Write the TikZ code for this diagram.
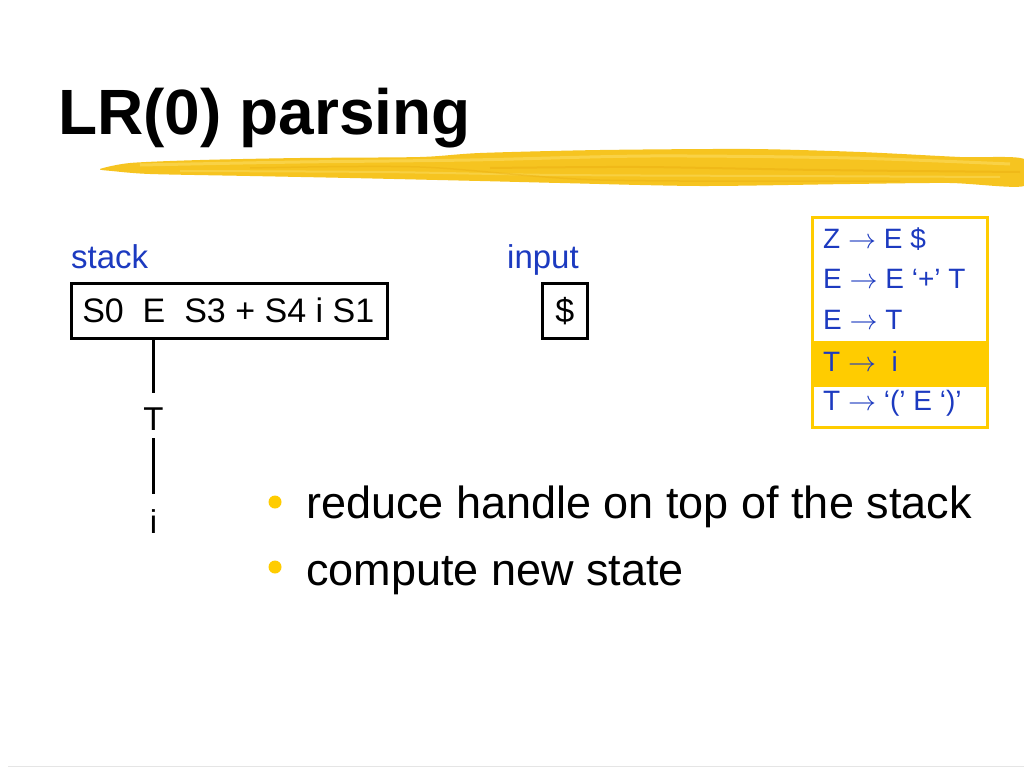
\RequirePackage{fix-cm}
\documentclass[tikz,border=0pt]{standalone}
\usepackage{fontspec}
\setmainfont{Liberation Sans}
\definecolor{slideblue}{RGB}{28,58,192}
\definecolor{gold}{RGB}{255,204,0}
\definecolor{brushA}{RGB}{246,196,32}
\definecolor{brushB}{RGB}{250,214,80}
\definecolor{brushC}{RGB}{236,178,20}
\begin{document}
\begin{tikzpicture}[x=1pt,y=-1pt,
  lbl/.style={inner sep=0pt, text=slideblue, font=\fontsize{33}{38}\selectfont},
  boxnode/.style={draw=black, line width=2.5pt, inner sep=0pt, font=\fontsize{34}{40}\selectfont},
  treetext/.style={inner sep=0pt, font=\fontsize{33}{38}\selectfont},
  treeline/.style={line width=2.5pt},
  gtext/.style={inner sep=0pt, text=slideblue, font=\fontsize{28}{32}\selectfont},
  btext/.style={inner sep=0pt, font=\fontsize{45}{52}\selectfont},
  bulletdot/.style={circle, fill=gold, inner sep=0pt, minimum size=13pt}
]
\newcommand{\ra}{\ensuremath{\rightarrow}}
\useasboundingbox (0,0) rectangle (1024,768);
\fill[white] (0,0) rectangle (1024,768);

% brush stroke under the title
\fill[brushA] plot[smooth cycle, tension=0.45] coordinates {
  (100,169) (130,163) (200,160) (300,158) (420,157) (480,153) (600,150) (750,149)
  (860,152) (960,157) (1024,159) (1024,186) (950,183) (850,184) (700,186)
  (560,183) (480,181) (350,178) (250,176) (150,174) (112,171)};
\draw[brushB, line width=3pt, opacity=0.8] plot[smooth] coordinates {(140,165) (300,162) (470,160) (650,156) (850,158) (1010,164)};
\draw[brushB, line width=2pt, opacity=0.7] plot[smooth] coordinates {(180,171) (380,172) (560,175) (780,176) (1000,177)};
\draw[brushC, line width=2pt, opacity=0.6] plot[smooth] coordinates {(490,168) (640,167) (820,170) (1020,172)};
\draw[brushC, line width=1.5pt, opacity=0.5] plot[smooth] coordinates {(250,168) (420,167) (600,180) (900,181)};

% title
\node[anchor=base west, inner sep=0pt, font=\bfseries\fontsize{64}{72}\selectfont] (title) at (58,134) {LR(0) parsing};

% labels
\node[lbl, anchor=base west] (stacklbl) at (71,268) {stack};
\node[lbl, anchor=base west] (inputlbl) at (507,268) {input};

% stack and input boxes
\node[boxnode, anchor=north west, minimum width=316pt, minimum height=55pt,
      inner xsep=11pt] (stack) at (70,282) {\makebox[294pt][l]{S0\ \ E\ \ S3 + S4 i S1}};
\node[boxnode, anchor=north west, minimum width=45pt, minimum height=55pt] (input) at (541,282) {\$};

% parse tree
\node[treetext, anchor=base] (T) at (153.5,430) {T};
\node[treetext, anchor=base] (i) at (153.5,533) {i};
\draw[treeline] (stack.south -| T.north) -- ([yshift=14pt]T.north);
\draw[treeline] ([yshift=-8pt]T.south) -- ([yshift=15pt]i.north);

% grammar box
\node[fill=gold, inner sep=0pt, minimum width=175pt, minimum height=46pt, anchor=north west] (band) at (811,341) {};
\node[draw=gold, line width=3pt, inner sep=0pt, minimum width=175pt, minimum height=210pt, anchor=north west] (gram) at (811,216) {};
\node[gtext, anchor=base west] (r1) at (823,248) {Z \ra{} E \$};
\node[gtext, anchor=base west] (r2) at (823,288) {E \ra{} E ‘+’ T};
\node[gtext, anchor=base west] (r3) at (823,329) {E \ra{} T};
\node[gtext, anchor=base west] (r4) at (823,371) {T \ra\ \ i};
\node[gtext, anchor=base west] (r5) at (823,410) {T \ra{} ‘(’ E ‘)’};

% bullets
\node[bulletdot] (b1) at (275,502) {};
\node[btext, anchor=base west] (t1) at (306,518) {reduce handle on top of the stack};
\node[bulletdot] (b2) at (275,567) {};
\node[btext, anchor=base west] (t2) at (306,585) {compute new state};

% faint bottom rule
\draw[black!10, line width=1pt] (8,766.5) -- (1024,766.5);
\end{tikzpicture}
\end{document}
